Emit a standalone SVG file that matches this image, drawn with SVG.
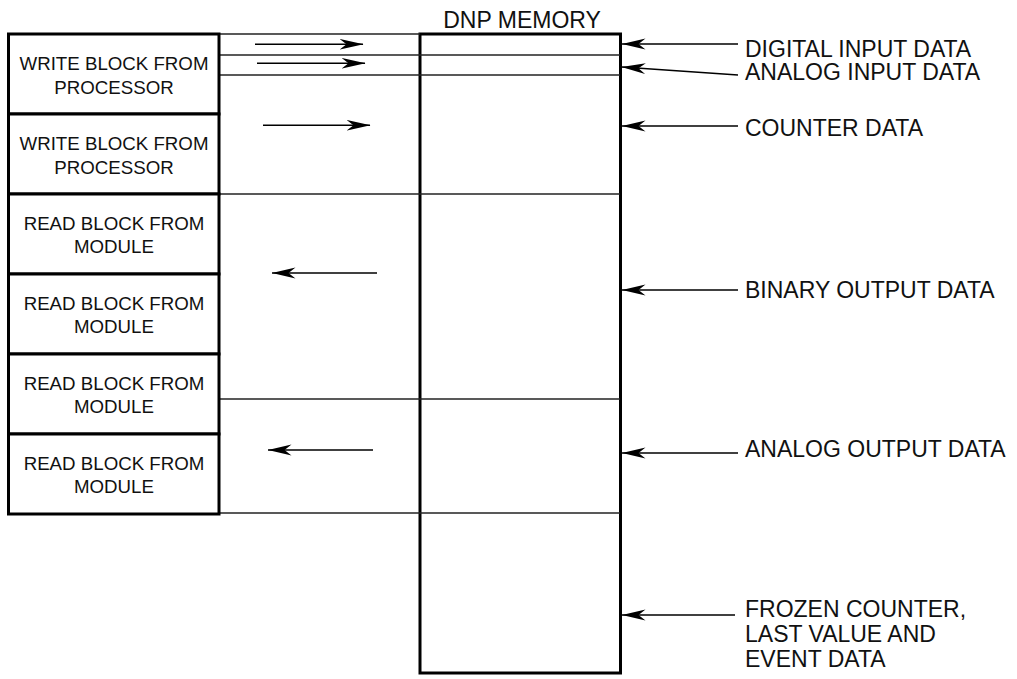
<svg xmlns="http://www.w3.org/2000/svg" width="1017" height="679" viewBox="0 0 1017 679">
<style>
.bg{fill:#fff}
.box{fill:#fff;stroke:#000;stroke-width:3}
.thin{stroke:#222;stroke-width:1.6;fill:none}
.arr{stroke:#000;stroke-width:1.6;fill:none;marker-end:url(#ah)}
.lbl{font-family:"Liberation Sans",Arial,sans-serif;font-size:18.7px;fill:#111;text-anchor:middle}
.rl{font-family:"Liberation Sans",Arial,sans-serif;font-size:23px;fill:#111}
</style>
<defs>
<marker id="ah" markerUnits="userSpaceOnUse" viewBox="0 0 24 12" refX="23.5" refY="6" markerWidth="24" markerHeight="12" orient="auto">
<path d="M24,6 L0,0.6 L7,6 L0,11.4 Z" fill="#000"/>
</marker>
</defs>
<rect class="bg" x="0" y="0" width="1017" height="679"/>
<text class="rl" x="522" y="28" text-anchor="middle">DNP MEMORY</text>
<g id="dnp-memory">
<rect class="box" x="420" y="34" width="200.5" height="639"/>
</g>
<g id="grid">
<line class="thin" x1="219" y1="34" x2="420" y2="34"/>
<line class="thin" x1="219" y1="55" x2="620" y2="55"/>
<line class="thin" x1="219" y1="75" x2="620" y2="75"/>
<line class="thin" x1="219" y1="194" x2="620" y2="194"/>
<line class="thin" x1="219" y1="399" x2="620" y2="399"/>
<line class="thin" x1="219" y1="513" x2="620" y2="513"/>
</g>
<g id="block1"><rect class="box" x="8.5" y="34" width="210.5" height="80"/><text class="lbl" x="114" y="70">WRITE BLOCK FROM</text><text class="lbl" x="114" y="94">PROCESSOR</text></g>
<g id="block2"><rect class="box" x="8.5" y="114" width="210.5" height="80"/><text class="lbl" x="114" y="150">WRITE BLOCK FROM</text><text class="lbl" x="114" y="174">PROCESSOR</text></g>
<g id="block3"><rect class="box" x="8.5" y="194" width="210.5" height="80"/><text class="lbl" x="114" y="230">READ BLOCK FROM</text><text class="lbl" x="114" y="253">MODULE</text></g>
<g id="block4"><rect class="box" x="8.5" y="274" width="210.5" height="80"/><text class="lbl" x="114" y="310">READ BLOCK FROM</text><text class="lbl" x="114" y="333">MODULE</text></g>
<g id="block5"><rect class="box" x="8.5" y="354" width="210.5" height="80"/><text class="lbl" x="114" y="390">READ BLOCK FROM</text><text class="lbl" x="114" y="413">MODULE</text></g>
<g id="block6"><rect class="box" x="8.5" y="434" width="210.5" height="80"/><text class="lbl" x="114" y="470">READ BLOCK FROM</text><text class="lbl" x="114" y="493">MODULE</text></g>
<g id="labels">
<text class="rl" x="745" y="57">DIGITAL INPUT DATA</text>
<text class="rl" x="745" y="80">ANALOG INPUT DATA</text>
<text class="rl" x="745" y="136">COUNTER DATA</text>
<text class="rl" x="745" y="298">BINARY OUTPUT DATA</text>
<text class="rl" x="745" y="457">ANALOG OUTPUT DATA</text>
<text class="rl" x="745" y="617">FROZEN COUNTER,</text>
<text class="rl" x="745" y="642">LAST VALUE AND</text>
<text class="rl" x="745" y="667">EVENT DATA</text>
</g>
<g id="connectors">
<line class="arr" x1="255" y1="44.3" x2="363" y2="44.3"/>
<line class="arr" x1="257" y1="63.3" x2="365" y2="63.3"/>
<line class="arr" x1="263" y1="125.3" x2="370" y2="125.3"/>
<line class="arr" x1="377" y1="273" x2="272" y2="273"/>
<line class="arr" x1="373" y1="450" x2="268" y2="450"/>
<line class="arr" x1="738" y1="44" x2="622" y2="44"/>
<line class="arr" x1="738" y1="75" x2="622" y2="67"/>
<line class="arr" x1="738" y1="126" x2="622" y2="126"/>
<line class="arr" x1="738" y1="290" x2="622" y2="290"/>
<line class="arr" x1="738" y1="453" x2="622" y2="453"/>
<line class="arr" x1="735" y1="615" x2="622" y2="615"/>
</g>
</svg>
